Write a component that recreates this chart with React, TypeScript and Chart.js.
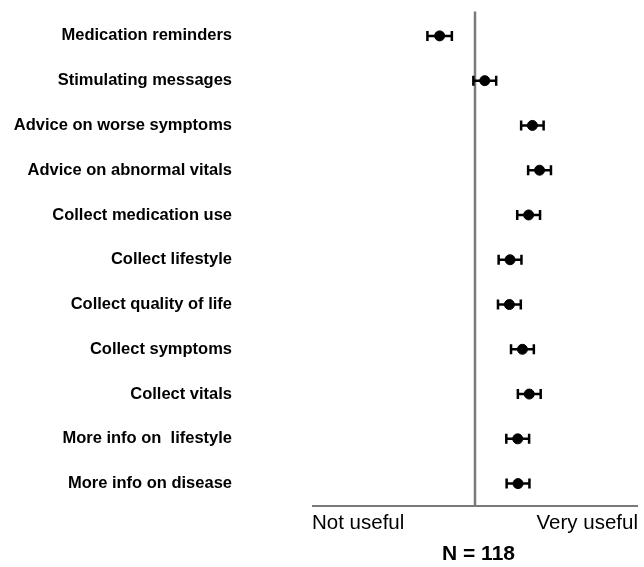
import React, { useEffect, useRef } from "react";
import { Chart, registerables } from "chart.js";

Chart.register(...registerables);

const categories = [
  "Medication reminders",
  "Stimulating messages",
  "Advice on worse symptoms",
  "Advice on abnormal vitals",
  "Collect medication use",
  "Collect lifestyle",
  "Collect quality of life",
  "Collect symptoms",
  "Collect vitals",
  "More info on  lifestyle",
  "More info on disease",
];
const means = [-0.217, 0.06, 0.352, 0.396, 0.329, 0.215, 0.211, 0.291, 0.333, 0.262, 0.264];
const errors = [0.075, 0.07, 0.069, 0.07, 0.07, 0.07, 0.07, 0.07, 0.07, 0.07, 0.07];
const axisLabels = ["Not useful", "Very useful"];
const footnote = "N = 118";

const FONT = "'Liberation Sans', Arial, Helvetica, sans-serif";

const drawPlugin = {
  id: "dotPlotExtras",
  beforeDatasetsDraw(chart: any) {
    const { ctx, scales, chartArea } = chart;
    const x = scales.x;
    const y = scales.y;
    ctx.save();
    const x0 = x.getPixelForValue(0);
    ctx.strokeStyle = "#7a7a7a";
    ctx.lineWidth = 2.5;
    ctx.beginPath();
    ctx.moveTo(x0, chartArea.top - 2);
    ctx.lineTo(x0, chartArea.bottom);
    ctx.stroke();
    ctx.lineWidth = 2;
    ctx.beginPath();
    ctx.moveTo(chartArea.left, chartArea.bottom);
    ctx.lineTo(chartArea.right, chartArea.bottom);
    ctx.stroke();
    ctx.strokeStyle = "#000";
    ctx.lineWidth = 2.5;
    means.forEach((m, i) => {
      const py = y.getPixelForValue(i);
      const xl = x.getPixelForValue(m - errors[i]);
      const xr = x.getPixelForValue(m + errors[i]);
      ctx.beginPath();
      ctx.moveTo(xl, py);
      ctx.lineTo(xr, py);
      ctx.moveTo(xl, py - 5);
      ctx.lineTo(xl, py + 5);
      ctx.moveTo(xr, py - 5);
      ctx.lineTo(xr, py + 5);
      ctx.stroke();
    });
    ctx.restore();
  },
  afterDraw(chart: any) {
    const { ctx, chartArea } = chart;
    ctx.save();
    ctx.fillStyle = "#000";
    ctx.textBaseline = "middle";
    ctx.font = `20.5px ${FONT}`;
    ctx.textAlign = "left";
    ctx.fillText(axisLabels[0], chartArea.left, chartArea.bottom + 17);
    ctx.textAlign = "right";
    ctx.fillText(axisLabels[1], chartArea.right, chartArea.bottom + 17);
    ctx.font = `bold 21px ${FONT}`;
    ctx.textAlign = "center";
    ctx.fillText(footnote, (chartArea.left + chartArea.right) / 2 + 3.5, chartArea.bottom + 48);
    ctx.restore();
  },
};

export default function App() {
  const ref = useRef<HTMLCanvasElement | null>(null);
  useEffect(() => {
    if (!ref.current) return;
    const chart = new Chart(ref.current, {
      type: "scatter",
      data: {
        datasets: [
          {
            data: means.map((m, i) => ({ x: m, y: i })),
            backgroundColor: "#000",
            borderColor: "#000",
            pointRadius: 5,
            pointHoverRadius: 5,
          },
        ],
      },
      options: {
        animation: false,
        responsive: false,
        events: [],
        layout: { padding: { top: 13.5, right: 4, bottom: 61, left: 0 } },
        plugins: { legend: { display: false }, tooltip: { enabled: false } },
        scales: {
          x: {
            type: "linear",
            min: -1,
            max: 1,
            display: false,
          },
          y: {
            type: "linear",
            min: -0.5,
            max: 10.5,
            reverse: true,
            border: { display: false },
            grid: { display: false, drawTicks: false },
            afterBuildTicks: (scale: any) => {
              scale.ticks = categories.map((_, i) => ({ value: i }));
            },
            afterFit: (scale: any) => {
              scale.width = 312;
              scale.paddingTop = 0;
              scale.paddingBottom = 0;
            },
            ticks: {
              padding: 80,
              color: "#000",
              font: { family: FONT, size: 16.5, weight: "bold" },
              callback: (v: any) => categories[v as number] ?? "",
            },
          },
        },
      },
      plugins: [drawPlugin],
    });
    return () => chart.destroy();
  }, []);
  return (
    <div style={{ position: "absolute", left: 0, top: 0, width: 644, height: 567, background: "#fff" }}>
      <canvas ref={ref} width={644} height={567} style={{ width: 644, height: 567 }} />
    </div>
  );
}
